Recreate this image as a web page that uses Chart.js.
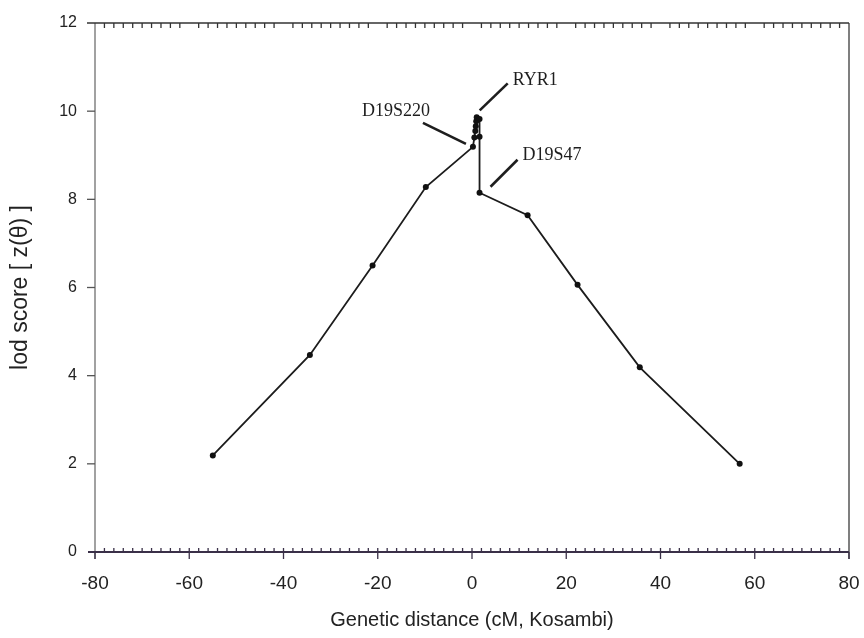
<!DOCTYPE html>
<html>
<head>
<meta charset="utf-8">
<script src="https://cdn.jsdelivr.net/npm/chart.js@4"></script>
<style>
  html, body { margin: 0; padding: 0; background: #ffffff; }
  #wrap { width: 864px; height: 638px; }
</style>
</head>
<body>
<div id="wrap"><canvas id="c" width="864" height="638"></canvas></div>
<script>
// Multipoint lod score along chromosome 19 (genetic distance in cM, Kosambi)
const distanceCM = [-55.0, -34.4, -21.1, -9.8, 0.2, 0.5, 0.7, 0.8, 0.9, 1.0, 1.6, 1.6, 1.6, 11.8, 22.4, 35.6, 56.8];
const lodScore   = [2.19, 4.47, 6.50, 8.28, 9.19, 9.40, 9.55, 9.66, 9.77, 9.86, 9.82, 9.42, 8.15, 7.64, 6.06, 4.19, 2.00];

// Marker labels: which point each one points at
const markerNames = ['D19S220', 'RYR1', 'D19S47'];
const markerPointIndex = [4, 9, 12];

const xTickValues = [-80, -60, -40, -20, 0, 20, 40, 60, 80];
const yTickValues = [0, 2, 4, 6, 8, 10, 12];

const points = distanceCM.map((x, i) => ({ x: x, y: lodScore[i] }));

// leader line / label placement relative to the labelled point (pixels)
const labelLayout = {
  'D19S220': { from: [-7, -3], to: [-50, -24], text: [-43, -31], align: 'right' },
  'RYR1':    { from: [3, -7],  to: [31, -34],  text: [36, -32],  align: 'left' },
  'D19S47':  { from: [11, -6], to: [38, -33],  text: [43, -33],  align: 'left' }
};

const noScalePadding = s => { s.paddingLeft = 0; s.paddingRight = 0; s.paddingTop = 0; s.paddingBottom = 0; };

const frame = {
  id: 'frame',
  beforeDatasetsDraw(chart) {
    const ctx = chart.ctx;
    const xs = chart.scales.x, ys = chart.scales.y;
    const x0 = xs.getPixelForValue(-80), x1 = xs.getPixelForValue(80);
    const yTop = ys.getPixelForValue(12), yBot = ys.getPixelForValue(0);
    ctx.save();
    ctx.lineCap = 'butt';
    // left axis
    ctx.strokeStyle = '#8a8a8a'; ctx.lineWidth = 1.6;
    ctx.beginPath(); ctx.moveTo(x0, yTop); ctx.lineTo(x0, yBot + 7); ctx.stroke();
    // y major ticks (outside)
    ctx.strokeStyle = '#555'; ctx.lineWidth = 1.3;
    for (let v = 2; v <= 10; v += 2) {
      const y = ys.getPixelForValue(v);
      ctx.beginPath(); ctx.moveTo(x0 - 8, y); ctx.lineTo(x0, y); ctx.stroke();
    }
    // right axis
    ctx.strokeStyle = '#555'; ctx.lineWidth = 1.5;
    ctx.beginPath(); ctx.moveTo(x1, yTop); ctx.lineTo(x1, yBot + 7); ctx.stroke();
    // top axis with inward minor ticks
    ctx.strokeStyle = '#333'; ctx.lineWidth = 1.3;
    ctx.beginPath(); ctx.moveTo(x0 - 8, yTop); ctx.lineTo(x1, yTop); ctx.stroke();
    for (let v = -78; v < 80; v += 2) {
      if (v % 20 === 0) continue;
      const x = xs.getPixelForValue(v);
      ctx.beginPath(); ctx.moveTo(x, yTop); ctx.lineTo(x, yTop + 5); ctx.stroke();
    }
    // bottom axis: inward minor ticks, outward major ticks
    ctx.strokeStyle = '#3a3048'; ctx.lineWidth = 2;
    ctx.beginPath(); ctx.moveTo(x0 - 7, yBot); ctx.lineTo(x1, yBot); ctx.stroke();
    ctx.lineWidth = 1.3;
    for (let v = -78; v < 80; v += 2) {
      const x = xs.getPixelForValue(v);
      ctx.beginPath(); ctx.moveTo(x, yBot); ctx.lineTo(x, yBot - 4); ctx.stroke();
    }
    for (const v of xTickValues) {
      const x = xs.getPixelForValue(v);
      ctx.beginPath(); ctx.moveTo(x, yBot); ctx.lineTo(x, yBot + 7); ctx.stroke();
    }
    ctx.restore();
  },
  afterDatasetsDraw(chart) {
    const ctx = chart.ctx;
    const meta = chart.getDatasetMeta(0);
    ctx.save();
    ctx.strokeStyle = '#1e1e1e'; ctx.fillStyle = '#1e1e1e';
    ctx.lineWidth = 2.6; ctx.lineCap = 'butt';
    ctx.font = '18px "Liberation Serif", "Times New Roman", serif';
    ctx.textBaseline = 'alphabetic';
    markerNames.forEach((name, k) => {
      const el = meta.data[markerPointIndex[k]];
      const L = labelLayout[name];
      ctx.beginPath();
      ctx.moveTo(el.x + L.from[0], el.y + L.from[1]);
      ctx.lineTo(el.x + L.to[0], el.y + L.to[1]);
      ctx.stroke();
      ctx.textAlign = L.align;
      ctx.fillText(name, el.x + L.text[0], el.y + L.text[1]);
    });
    ctx.restore();
  }
};

new Chart(document.getElementById('c'), {
  type: 'scatter',
  data: {
    datasets: [{
      data: points,
      showLine: true,
      borderColor: '#1c1c1c',
      borderWidth: 1.8,
      pointRadius: 3,
      pointBackgroundColor: '#111',
      pointBorderWidth: 0,
      tension: 0
    }]
  },
  options: {
    responsive: false,
    animation: false,
    devicePixelRatio: 1,
    layout: { padding: { left: 0, right: 15, top: 23, bottom: 0 } },
    plugins: { legend: { display: false }, tooltip: { enabled: false } },
    scales: {
      x: {
        type: 'linear', min: -80, max: 80,
        afterBuildTicks: s => { s.ticks = xTickValues.map(v => ({ value: v })); },
        afterFit: s => { s.height = 86; noScalePadding(s); },
        ticks: { color: '#222', padding: 20, font: { family: '"Liberation Sans", Arial, sans-serif', size: 19 } },
        grid: { display: false, drawTicks: false },
        border: { display: false },
        title: {
          display: true, text: 'Genetic distance (cM, Kosambi)', color: '#222',
          font: { family: '"Liberation Sans", Arial, sans-serif', size: 20 },
          padding: { top: 8, bottom: 6 }
        }
      },
      y: {
        type: 'linear', min: 0, max: 12,
        afterBuildTicks: s => { s.ticks = yTickValues.map(v => ({ value: v })); },
        afterFit: s => { s.width = 95; noScalePadding(s); },
        ticks: { color: '#222', padding: 18, font: { family: '"Liberation Sans", Arial, sans-serif', size: 16 } },
        grid: { display: false, drawTicks: false },
        border: { display: false },
        title: {
          display: true, text: 'lod score [ z(θ) ]', color: '#222',
          font: { family: '"Liberation Sans", Arial, sans-serif', size: 23 },
          padding: { top: 7, bottom: 0 }
        }
      }
    }
  },
  plugins: [frame]
});
</script>
</body>
</html>
